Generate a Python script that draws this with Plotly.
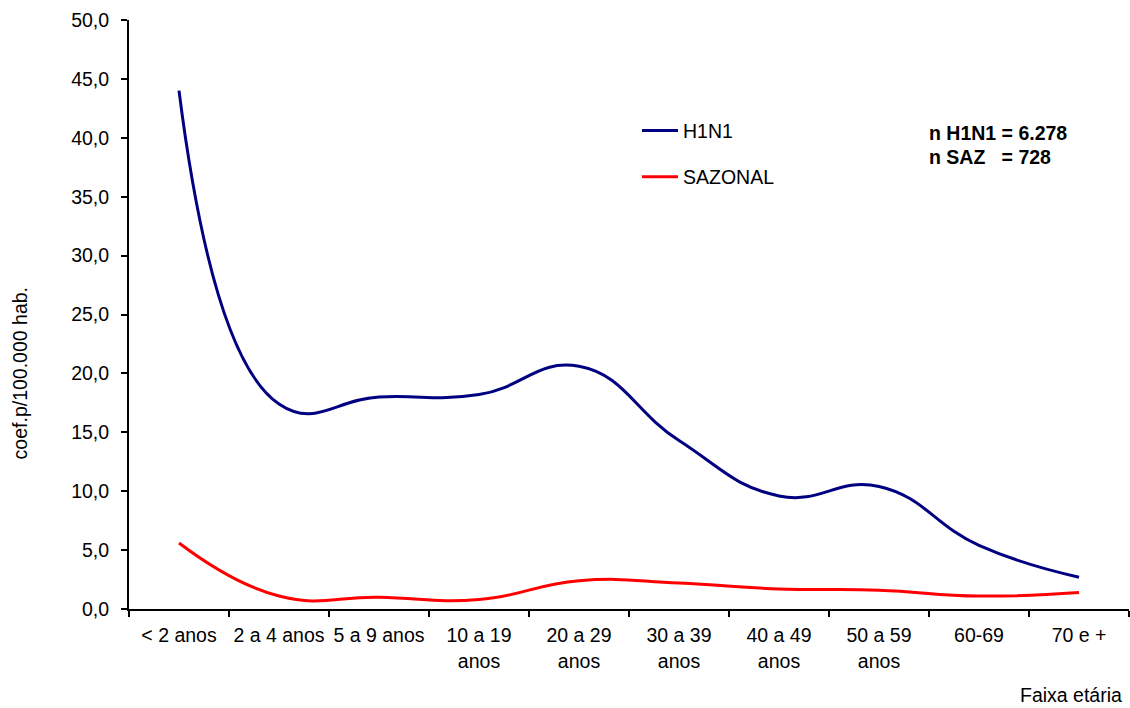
import plotly.graph_objects as go

faixas = ["< 2 anos", "2 a 4 anos", "5 a 9 anos", "10 a 19<br>anos", "20 a 29<br>anos",
          "30 a 39<br>anos", "40 a 49<br>anos", "50 a 59<br>anos", "60-69", "70 e +"]
h1n1 = [44.0, 17.4, 18.0, 18.2, 20.6, 14.3, 9.6, 10.4, 5.4, 2.7]
sazonal = [5.6, 1.1, 1.0, 0.8, 2.4, 2.2, 1.7, 1.6, 1.1, 1.4]

FONT = "Liberation Sans, Arial, sans-serif"
FS = 19.5

fig = go.Figure()
fig.add_trace(go.Scatter(x=faixas, y=h1n1, name="H1N1", mode="lines",
                         line=dict(color="#000080", width=3, shape="spline", smoothing=1.3),
                         legendgroup="a"))
fig.add_trace(go.Scatter(x=faixas, y=sazonal, name="SAZONAL", mode="lines",
                         line=dict(color="#FF0000", width=3, shape="spline", smoothing=1.3),
                         legendgroup="b"))

fig.update_layout(
    width=1130, height=708,
    margin=dict(l=129, r=1, t=20, b=99),
    paper_bgcolor="white", plot_bgcolor="white",
    separators=",.",
    font=dict(family=FONT, size=FS, color="black"),
    showlegend=True,
    legend=dict(x=0.508, y=0.845, xanchor="left", yanchor="top",
                bgcolor="rgba(0,0,0,0)", font=dict(size=FS),
                tracegroupgap=18, itemwidth=36),
    xaxis=dict(type="category", range=[-0.5, 9.5], showline=True, linecolor="black",
               linewidth=2, ticks="outside", tickson="boundaries", ticklen=6,
               tickcolor="black", tickwidth=2, showgrid=False, zeroline=False,
               tickangle=0, ticklabelstandoff=8, tickfont=dict(size=FS)),
    yaxis=dict(range=[0, 50], dtick=5, tickformat=".1f", showline=True, linecolor="black",
               linewidth=2, ticks="outside", ticklen=6, tickcolor="black", tickwidth=2,
               showgrid=False, zeroline=False, ticklabelstandoff=8, tickfont=dict(size=FS)),
    annotations=[
        dict(text="coef.p/100.000 hab.", xref="paper", yref="paper", x=-0.109, y=0.40,
             xanchor="center", yanchor="middle", textangle=-90, showarrow=False,
             font=dict(size=FS)),
        dict(text="Faixa etária", xref="paper", yref="paper", x=0.995, y=-0.146,
             xanchor="right", yanchor="middle", showarrow=False, font=dict(size=FS)),
        dict(text="<b>n H1N1 = 6.278</b>", xref="paper", yref="paper", x=0.798, y=0.808,
             xanchor="left", yanchor="middle", showarrow=False, font=dict(size=FS)),
        dict(text="<b>n SAZ&nbsp;&nbsp;&nbsp;= 728</b>", xref="paper", yref="paper",
             x=0.798, y=0.768, xanchor="left", yanchor="middle", showarrow=False,
             font=dict(size=FS)),
    ],
)

fig.write_html("out.html")
